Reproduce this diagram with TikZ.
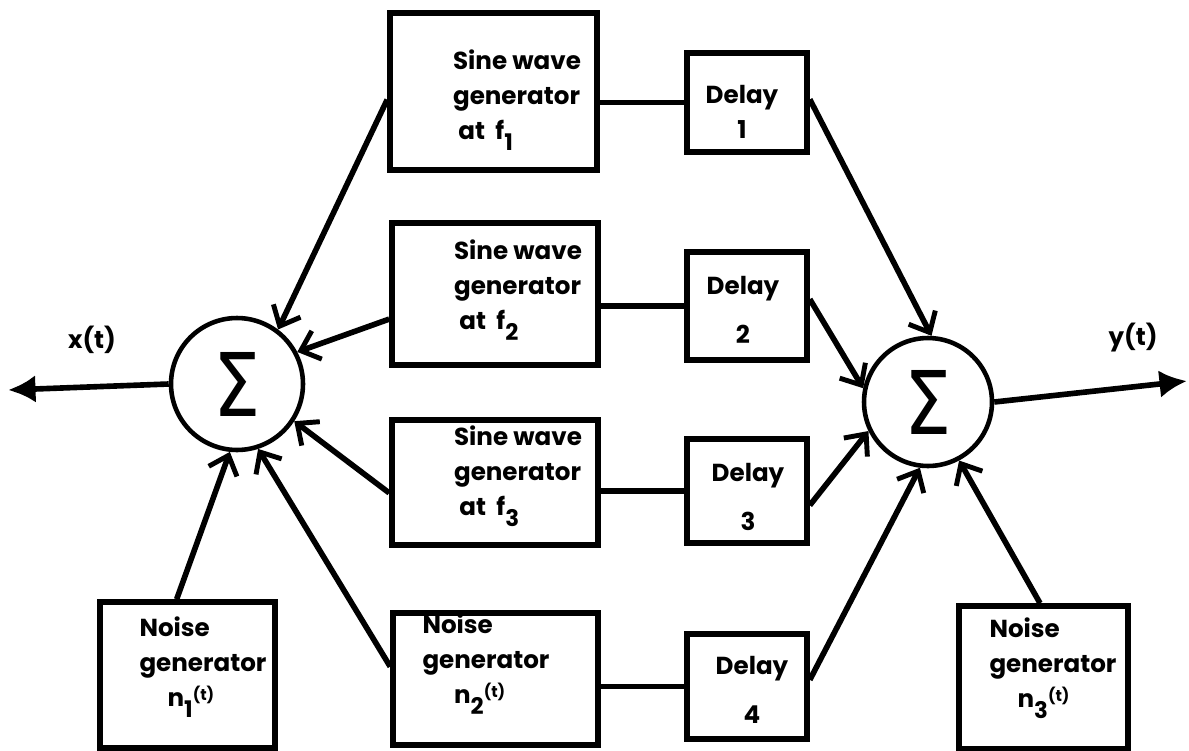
\documentclass[tikz,border=0pt]{standalone}
\usepackage{fontspec}
\setmainfont{Poppins}
\newfontfamily\sigmafont{DejaVu Sans}
\usetikzlibrary{arrows.meta,calc}
% lowered index digit and the raised "(t)" argument
\newcommand\lowsub[1]{\raisebox{-0.75ex}{\fontsize{13}{13}\selectfont #1}}
\newcommand\argt{\raisebox{0.45ex}{\small(t)}}
\begin{document}
\begin{tikzpicture}[x=0.02cm,y=-0.02cm,
  every node/.style={font=\fontsize{14}{20}\selectfont\bfseries},
  blk/.style={draw, rectangle, line width=3.2pt, inner sep=0pt},
  lbl/.style={align=left, inner sep=0pt},
  sumnode/.style={draw, circle, line width=2.6pt, inner sep=0pt},
  wire/.style={line width=3.2pt},
  feed/.style={line width=3.2pt, -{Straight Barb[length=3.4mm,width=6mm,line width=2.8pt]}},
  outp/.style={line width=3.2pt, -{Latex[length=5.5mm,width=5.5mm]}}
]
\useasboundingbox (0,0) rectangle (1189,750);

% sine wave generators
\node[blk, minimum width=4.14cm, minimum height=3.14cm] (s1) at (493.5,91.5) {};
\node[blk, minimum width=4.12cm, minimum height=2.84cm] (s2) at (495,294) {};
\node[blk, minimum width=4.12cm, minimum height=2.50cm] (s3) at (495,482.5) {};
\node[lbl] (s1t) at (517,100) {Sine wave\\generator\\\hspace{3pt}at\ \ f\lowsub{1}};
\node[lbl] (s2t) at (518,290) {Sine wave\\generator\\\hspace{3pt}at\ \ f\lowsub{2}};
\node[lbl] (s3t) at (518,476) {Sine wave\\generator\\\hspace{3pt}at\ \ f\lowsub{3}};

% delay lines
\node[blk, minimum width=2.40cm, minimum height=1.98cm] (d1) at (747,102.5) {};
\node[blk, minimum width=2.40cm, minimum height=2.16cm] (d2) at (747,306) {};
\node[blk, minimum width=2.40cm, minimum height=2.08cm] (d3) at (747,491) {};
\node[blk, minimum width=2.40cm, minimum height=2.10cm] (d4) at (747,686.5) {};
\node[lbl, align=center] (d1t) at (742,112) {Delay\\[0pt]1};
\node[lbl, align=center] (d2t) at (743,310) {Delay\\[8pt]2};
\node[lbl, align=center] (d3t) at (748,497) {Delay\\[8pt]3};
\node[lbl, align=center] (d4t) at (752,690) {Delay\\[8pt]4};

% noise generators
\node[blk, minimum width=3.50cm, minimum height=2.92cm] (n1) at (187.5,675) {};
\node[blk, minimum width=4.10cm, minimum height=2.64cm] (n2) at (495.5,679) {};
\node[blk, minimum width=3.38cm, minimum height=2.86cm] (n3) at (1043.5,677.5) {};
\node[lbl] (n1t) at (203,667) {Noise\\generator\\\hspace{16pt}n\lowsub{1}\argt};
\node[lbl] (n2t) at (486,664) {Noise\\generator\\\hspace{18pt}n\lowsub{2}\argt};
\node[lbl] (n3t) at (1053,668) {Noise\\generator\\\hspace{16pt}n\lowsub{3}\argt};

% summing junctions
\node[sumnode, minimum size=2.64cm] (sl) at (237,384) {\sigmafont\fontsize{50}{50}\selectfont\mdseries\scalebox{0.85}[1]{Σ}};
\node[sumnode, minimum size=2.56cm] (sr) at (928,402) {\sigmafont\fontsize{50}{50}\selectfont\mdseries\scalebox{0.85}[1]{Σ}};

% outputs
\coordinate (xo) at (8,390);
\coordinate (yo) at (1187,381);
\node (xl) at (92,340) {x(t)};
\node (yl) at (1133,338) {y(t)};
\draw[outp] (sl.west) -- (xo);
\draw[outp] (sr.east) -- (yo);

% generator to delay links
\draw[wire] (d1.west) -- (d1.west -| s1.east);
\draw[wire] (d2.west) -- (d2.west -| s2.east);
\draw[wire] (d3.west) -- (d3.west -| s3.east);
\draw[wire] (d4.west) -- (d4.west -| n2.east);

% inputs of the left junction
\draw[feed] ($(s1.north west)!0.55!(s1.south west)$) -- (sl.53);
\draw[feed] ($(s2.north west)!0.67!(s2.south west)$) -- (sl.28);
\draw[feed] ($(s3.north west)!0.58!(s3.south west)$) -- (sl.-33);
\draw[feed] ($(n2.north west)!0.41!(n2.south west)$) -- (sl.-72);
\draw[feed] ($(n1.north west)!0.44!(n1.north east)$) -- (sl.-96);

% inputs of the right junction
\draw[feed] ($(d1.north east)!0.47!(d1.south east)$) -- (sr.87);
\draw[feed] ($(d2.north east)!0.44!(d2.south east)$) -- (sr.168);
\draw[feed] ($(d3.north east)!0.63!(d3.south east)$) -- (sr.-154);
\draw[feed] ($(d4.north east)!0.44!(d4.south east)$) -- (sr.-97);
\draw[feed] ($(n3.north west)!0.48!(n3.north east)$) -- (sr.-62);
\end{tikzpicture}
\end{document}
